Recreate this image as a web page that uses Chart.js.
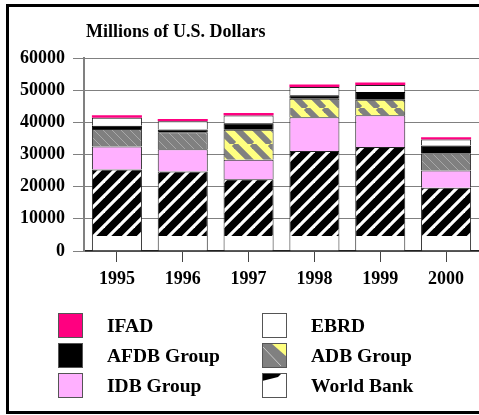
<!DOCTYPE html>
<html>
<head>
<meta charset="utf-8">
<script src="https://cdn.jsdelivr.net/npm/chart.js@4.4.1/dist/chart.umd.min.js"></script>
<style>
  html, body { margin: 0; padding: 0; background: #fff; overflow: hidden; }
  #frame { position: absolute; left: 6px; top: 4px; width: 520px; height: 404px; border: 3px solid #000; }
  #chart { position: absolute; left: 0; top: 0; }
</style>
</head>
<body>
<div id="frame"></div>
<canvas id="chart" width="479" height="415"></canvas>
<script>
// data (millions of US dollars)
var years = ['1995', '1996', '1997', '1998', '1999', '2000'];
var worldBank = [25300, 24700, 22300, 31100, 32300, 19700];
var idbGroup = [7200, 6900, 6100, 10500, 9900, 5300];
var adbGroup = [5400, 5300, 9300, 5700, 4800, 5400];
var afdbGroup = [1000, 900, 2000, 1100, 2400, 2400];
var ebrd = [2500, 2500, 2400, 2600, 2200, 1900];
var ifad = [800, 700, 800, 800, 800, 700];
var yTicks = [0, 10000, 20000, 30000, 40000, 50000, 60000];
var titleText = 'Millions of U.S. Dollars';

var FONT = "'Liberation Serif', 'Times New Roman', serif";

// World Bank: black with white "/" stripes, plain white near the baseline
var wbCache = {};
function worldBankFill(chart) {
    if (!chart.chartArea) return '#000';
    var cut = Math.round(chart.scales.y.getPixelForValue(4700));
    if (wbCache[cut]) return wbCache[cut];
    var P = 15, H = chart.height;
    var c = document.createElement('canvas');
    c.width = P; c.height = H;
    var g = c.getContext('2d');
    g.fillStyle = '#fff';
    g.fillRect(0, 0, P, H);
    g.fillStyle = '#000';
    g.fillRect(0, 0, P, cut);
    g.save();
    g.beginPath(); g.rect(0, 0, P, cut); g.clip();
    g.strokeStyle = '#fff';
    g.lineWidth = 3.2;
    for (var k = 0; k * P < H + 2 * P; k++) {
        var x0 = k * P;
        g.beginPath(); g.moveTo(x0, 0); g.lineTo(x0 - H, H); g.stroke();
    }
    g.restore();
    wbCache[cut] = chart.ctx.createPattern(c, 'repeat');
    return wbCache[cut];
}

// ADB: yellow with grey "\" stripes, or grey with faint lines
var adbCache = {};
function adbFill(ctx, yellow) {
    var key = yellow ? 'y' : 'g';
    if (adbCache[key]) return adbCache[key];
    var P = yellow ? 18 : 9;
    var c = document.createElement('canvas');
    c.width = P; c.height = P;
    var g = c.getContext('2d');
    g.fillStyle = yellow ? '#ffff80' : '#808080';
    g.fillRect(0, 0, P, P);
    g.strokeStyle = yellow ? '#808080' : '#a8a8a8';
    g.lineWidth = yellow ? 6 : 1;
    for (var k = -1; k <= 1; k++) {
        g.beginPath(); g.moveTo(k * P, 0); g.lineTo(k * P + P, P); g.stroke();
    }
    adbCache[key] = ctx.createPattern(c, 'repeat');
    return adbCache[key];
}

// Title + two-column legend, drawn under the plot
var boxLegend = {
    id: 'boxLegend',
    afterDraw: function(chart) {
        var ctx = chart.ctx;
        ctx.save();
        ctx.fillStyle = '#000';
        ctx.font = 'bold 18px ' + FONT;
        ctx.textBaseline = 'middle';
        ctx.textAlign = 'left';
        ctx.fillText(titleText, 86, 32);

        var sets = chart.data.datasets.slice().reverse();
        var colX = [58, 262], rowY = [313, 343, 373], size = 25;
        ctx.font = 'bold 19.5px ' + FONT;
        sets.forEach(function(ds, i) {
            var x = colX[i % 2], y = rowY[Math.floor(i / 2)];
            ctx.fillStyle = '#fff';
            ctx.fillRect(x, y, size, size);
            if (ds.label === 'World Bank') {
                ctx.fillStyle = '#000';
                ctx.beginPath();
                ctx.moveTo(x, y); ctx.lineTo(x + 20, y); ctx.lineTo(x + 16, y + 4); ctx.lineTo(x, y + 8);
                ctx.closePath(); ctx.fill();
            } else if (ds.label === 'ADB Group') {
                ctx.fillStyle = '#808080';
                ctx.fillRect(x, y, size, size);
                ctx.fillStyle = '#ffff80';
                ctx.beginPath();
                ctx.moveTo(x + 9, y); ctx.lineTo(x + size, y); ctx.lineTo(x + size, y + 14);
                ctx.closePath(); ctx.fill();
                ctx.strokeStyle = '#c8c8c8'; ctx.lineWidth = 1;
                ctx.beginPath(); ctx.moveTo(x + 1, y + 4); ctx.lineTo(x + 19, y + 23); ctx.stroke();
            } else {
                ctx.fillStyle = ds.legendColor;
                ctx.fillRect(x, y, size, size);
            }
            ctx.strokeStyle = '#555';
            ctx.lineWidth = 1;
            ctx.strokeRect(x + 0.5, y + 0.5, size - 1, size - 1);
            ctx.fillStyle = '#000';
            ctx.fillText(ds.label, x + 49, y + size / 2 + 1);
        });
        ctx.restore();
    }
};

var ctx = document.getElementById('chart').getContext('2d');
window.myBar = new Chart(ctx, {
    type: 'bar',
    data: {
        labels: years,
        datasets: [{
            label: 'World Bank',
            data: worldBank,
            backgroundColor: function(c) { return worldBankFill(c.chart); },
            borderColor: '#222',
            borderWidth: 1
        }, {
            label: 'IDB Group',
            data: idbGroup,
            backgroundColor: '#ffb0ff',
            legendColor: '#ffb0ff',
            borderColor: '#222',
            borderWidth: 1
        }, {
            label: 'ADB Group',
            data: adbGroup,
            backgroundColor: function(c) {
                var yellow = c.dataIndex >= 2 && c.dataIndex <= 4;
                return adbFill(c.chart.ctx, yellow);
            },
            borderColor: '#222',
            borderWidth: 1
        }, {
            label: 'AFDB Group',
            data: afdbGroup,
            backgroundColor: '#000',
            legendColor: '#000',
            borderColor: '#000',
            borderWidth: 1
        }, {
            label: 'EBRD',
            data: ebrd,
            backgroundColor: '#fff',
            legendColor: '#fff',
            borderColor: '#222',
            borderWidth: 1
        }, {
            label: 'IFAD',
            data: ifad,
            backgroundColor: '#ff0080',
            legendColor: '#ff0080',
            borderWidth: 0
        }]
    },
    options: {
        responsive: false,
        animation: false,
        barPercentage: 0.76,
        categoryPercentage: 1,
        layout: {
            padding: { top: 58, left: 0, right: 0, bottom: 130 }
        },
        plugins: {
            legend: { display: false },
            tooltip: { enabled: false }
        },
        scales: {
            x: {
                stacked: true,
                grid: {
                    offset: false,
                    drawOnChartArea: false,
                    drawTicks: true,
                    tickLength: 11,
                    color: '#444'
                },
                border: { display: true, color: '#222', width: 1.5 },
                ticks: {
                    color: '#000',
                    padding: 7,
                    font: { family: FONT, size: 18, weight: 'bold' }
                },
                afterFit: function(scale) { scale.height = 34; }
            },
            y: {
                stacked: true,
                min: 0,
                max: 60000,
                afterBuildTicks: function(scale) {
                    scale.ticks = yTicks.map(function(v) { return { value: v }; });
                },
                grid: {
                    color: '#808080',
                    lineWidth: 1,
                    tickLength: 11
                },
                border: { display: true, color: '#808080', width: 2 },
                ticks: {
                    color: '#000',
                    padding: 8,
                    font: { family: FONT, size: 18, weight: 'bold' },
                    callback: function(v) { return String(v); }
                },
                afterFit: function(scale) { scale.width = 84; }
            }
        }
    },
    plugins: [boxLegend]
});
</script>
</body>
</html>
